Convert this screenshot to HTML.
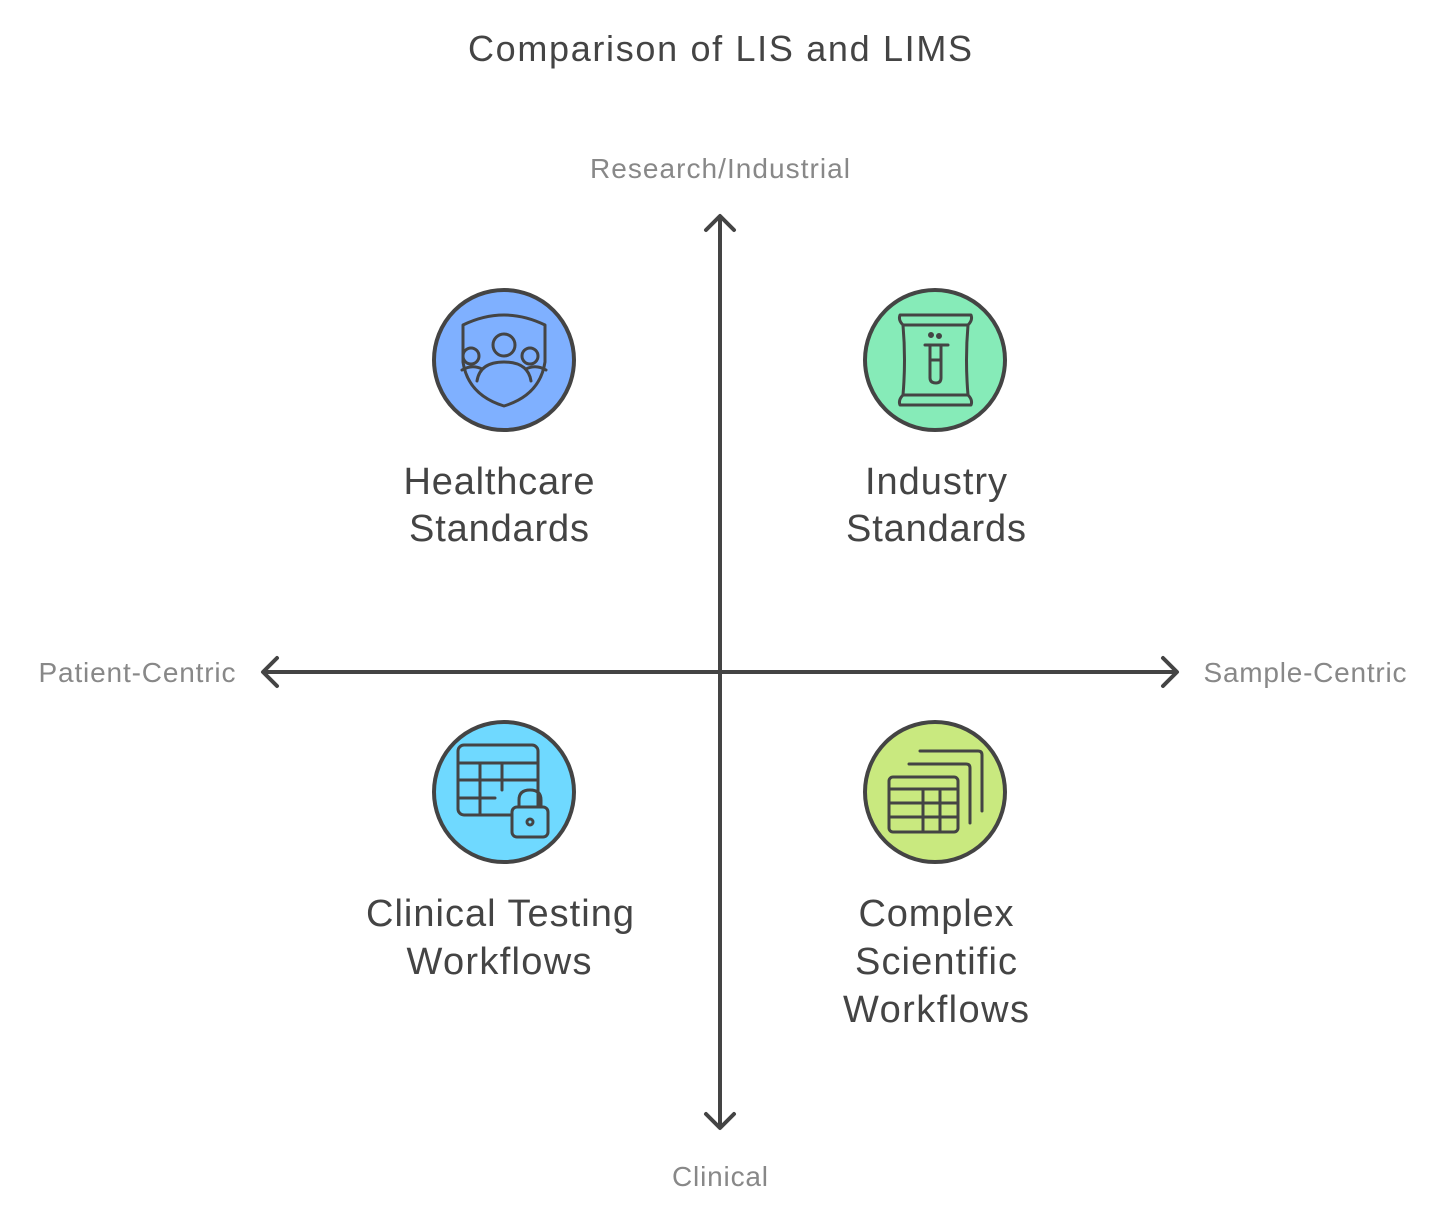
<!DOCTYPE html>
<html><head><meta charset="utf-8"><style>
html,body{margin:0;padding:0;background:#fff}
svg{display:block}
text{font-family:"Liberation Sans",sans-serif}
</style></head><body>
<svg width="1440" height="1224" viewBox="0 0 1440 1224" xmlns="http://www.w3.org/2000/svg">
<text x="720" y="61" text-anchor="middle" font-size="36" fill="#444" textLength="504" lengthAdjust="spacing">Comparison of LIS and LIMS</text>
<g fill="#888" font-size="28" text-anchor="middle">
<text x="720" y="178" textLength="260" lengthAdjust="spacing">Research/Industrial</text>
<text x="720" y="1186" textLength="96" lengthAdjust="spacing">Clinical</text>
<text x="137" y="682" textLength="197" lengthAdjust="spacing">Patient-Centric</text>
<text x="1305" y="682" textLength="203" lengthAdjust="spacing">Sample-Centric</text>
</g>
<g stroke="#444" stroke-width="4" fill="none" stroke-linecap="round" stroke-linejoin="round">
<line x1="720" y1="217" x2="720" y2="1126"/>
<line x1="264" y1="672" x2="1176" y2="672"/>
<polyline points="706,230 720,216 734,230"/>
<polyline points="706,1114 720,1128 734,1114"/>
<polyline points="277,658 263,672 277,686"/>
<polyline points="1163,658 1177,672 1163,686"/>
</g>
<g stroke="#444" stroke-width="4" stroke-linecap="round" stroke-linejoin="round">
<ellipse cx="504" cy="360" rx="70" ry="70" fill="#7fb0ff"/>
<ellipse cx="935" cy="360" rx="70" ry="70" fill="#86ebb8"/>
<ellipse cx="504" cy="792" rx="70" ry="70" fill="#6fd9ff"/>
<ellipse cx="935" cy="792" rx="70" ry="70" fill="#c9e97f"/>
</g>
<g stroke="#444" stroke-width="3" fill="none" stroke-linecap="round" stroke-linejoin="round">
<path d="M463,325 Q504,305 545,325 L545,362 Q540,395 504,406 Q468,395 463,362 Z"/>
<circle cx="504" cy="345" r="11"/>
<circle cx="471" cy="356" r="8"/><circle cx="530" cy="356" r="8"/>
<path d="M477,381 Q480,362 504,362 Q528,362 531,381"/>
<path d="M462,370 Q472,364 482,369"/><path d="M526,369 Q536,364 546,370"/>
<path d="M900,315 L971,315 Q973,320 968,325 Q965,360 968,395 Q973,400 971,405 L900,405 Q898,400 903,395 Q906,360 903,325 Q898,320 900,315 Z"/>
<line x1="903" y1="325" x2="968" y2="325"/><line x1="903" y1="395" x2="968" y2="395"/>
<line x1="925" y1="345" x2="948" y2="345"/>
<path d="M930,345 L930,378 Q930,383 936,383 Q941,383 941,378 L941,345"/><line x1="930" y1="360" x2="941" y2="360"/>
<circle cx="931" cy="335" r="1.5" fill="#444"/><circle cx="939" cy="336" r="1.5" fill="#444"/>
<rect x="458" y="745" width="80" height="70" rx="6"/>
<line x1="458" y1="763" x2="538" y2="763"/><line x1="458" y1="780" x2="538" y2="780"/><line x1="458" y1="798" x2="495" y2="798"/>
<line x1="480" y1="763" x2="480" y2="815"/><line x1="502" y1="763" x2="502" y2="790"/>
<rect x="512" y="807" width="36" height="30" rx="5" fill="#6fd9ff"/>
<path d="M519,807 L519,800 Q519,790 530,790 Q541,790 541,800 L541,807"/>
<circle cx="530" cy="822" r="3"/>
<path d="M920,751 L978,751 Q982,751 982,755 L982,811"/>
<path d="M909,764 L966,764 Q970,764 970,768 L970,823"/>
<rect x="889" y="777" width="69" height="55" rx="4"/>
<line x1="889" y1="789" x2="958" y2="789"/><line x1="889" y1="803" x2="958" y2="803"/><line x1="889" y1="817" x2="958" y2="817"/>
<line x1="923" y1="789" x2="923" y2="832"/><line x1="940" y1="789" x2="940" y2="832"/>
</g>
<g fill="#444" font-size="38" text-anchor="middle" lengthAdjust="spacing">
<text x="499" y="494" textLength="191" lengthAdjust="spacing">Healthcare</text><text x="499" y="541" textLength="180" lengthAdjust="spacing">Standards</text>
<text x="936" y="494" textLength="142" lengthAdjust="spacing">Industry</text><text x="936" y="541" textLength="180" lengthAdjust="spacing">Standards</text>
<text x="500" y="926" textLength="268" lengthAdjust="spacing">Clinical Testing</text><text x="499" y="974" textLength="185" lengthAdjust="spacing">Workflows</text>
<text x="936" y="926" textLength="155" lengthAdjust="spacing">Complex</text><text x="936" y="974" textLength="162" lengthAdjust="spacing">Scientific</text><text x="936" y="1022" textLength="186" lengthAdjust="spacing">Workflows</text>
</g>
</svg>
</body></html>
